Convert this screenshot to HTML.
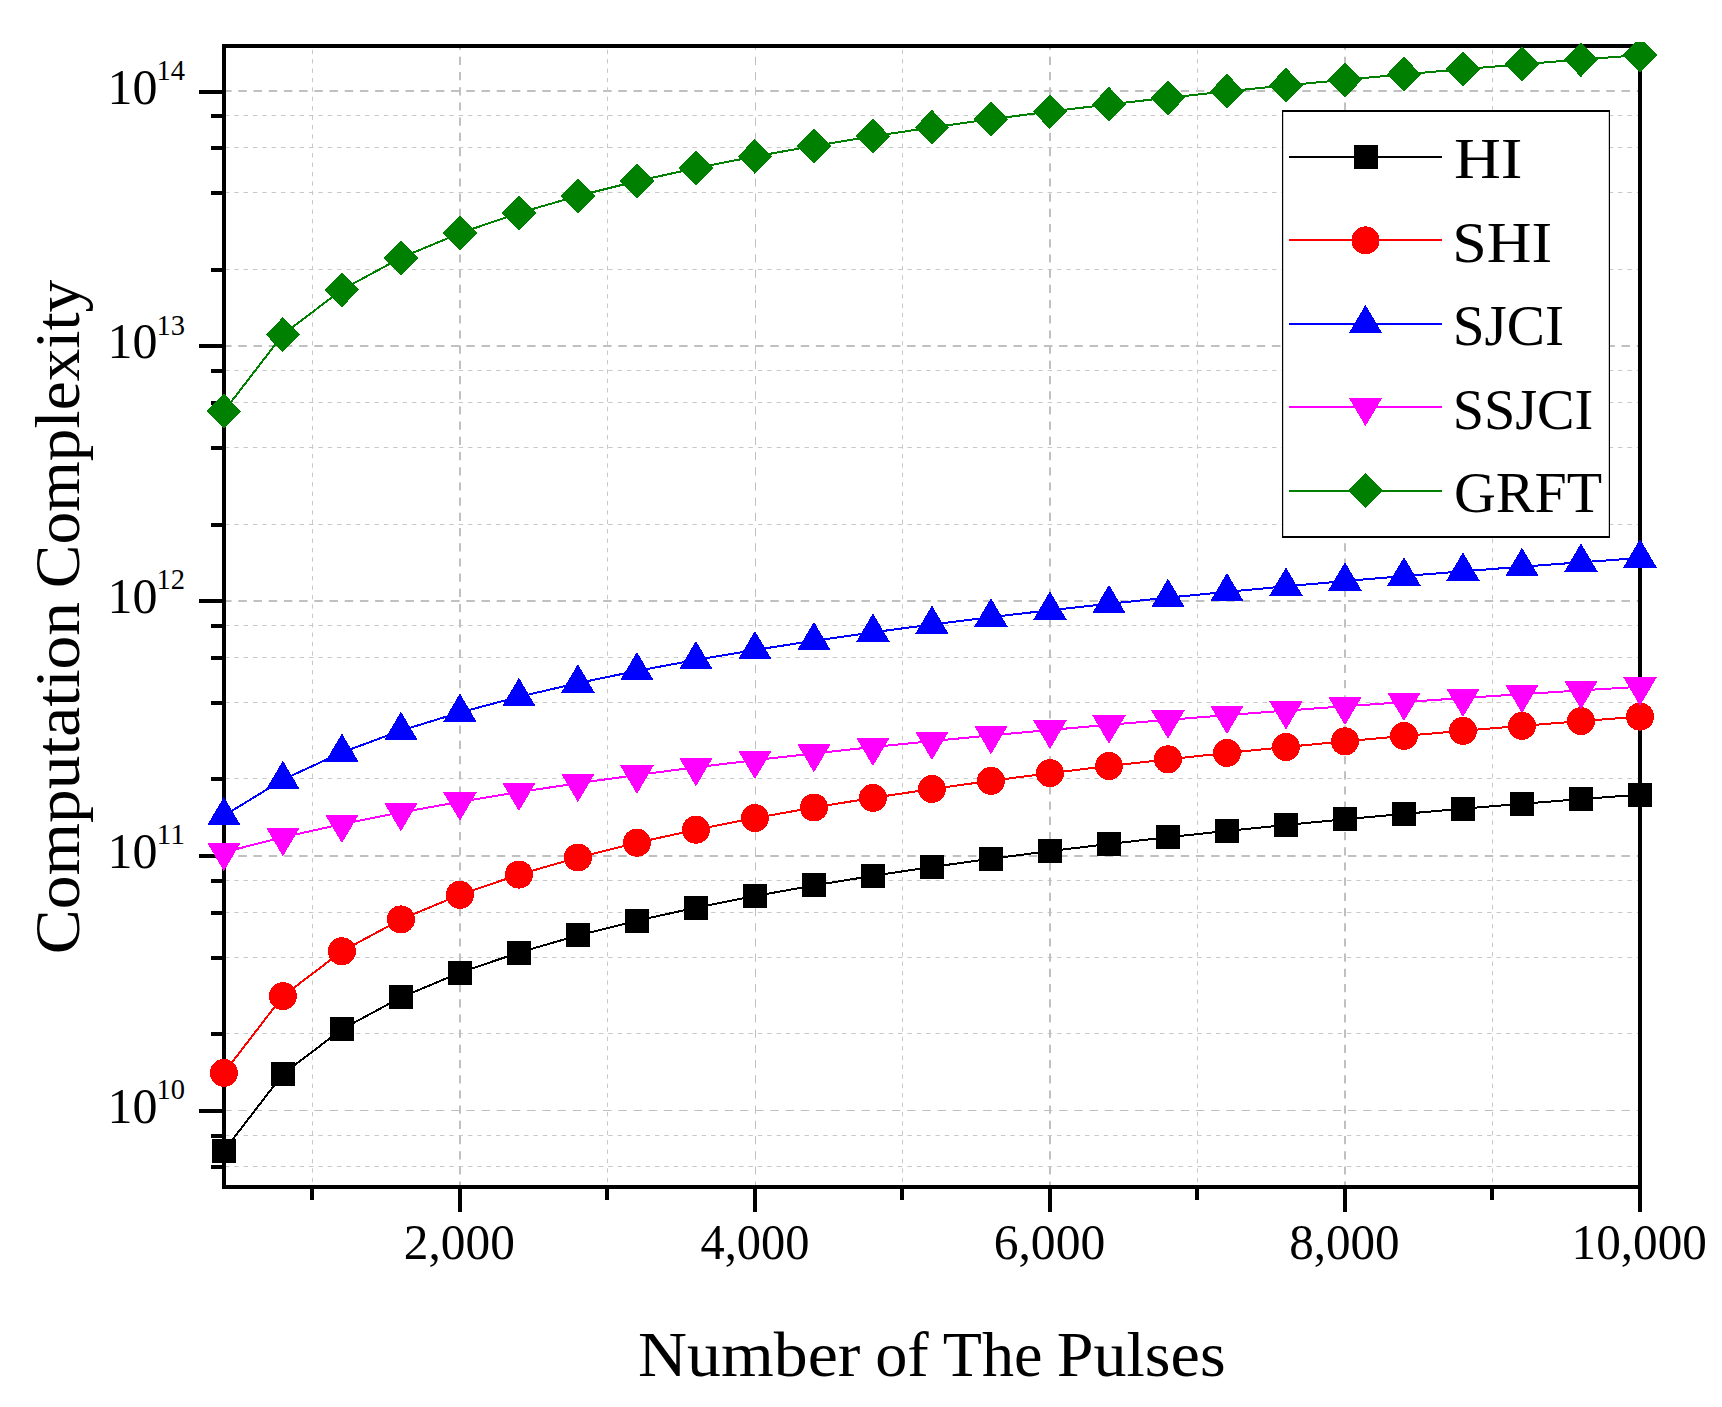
<!DOCTYPE html>
<html><head><meta charset="utf-8"><title>Computation Complexity</title>
<style>html,body{margin:0;padding:0;background:#fff;}body{width:1722px;height:1407px;overflow:hidden;}svg{display:block;}</style>
</head><body>
<svg width="1722" height="1407" viewBox="0 0 1722 1407">
<defs><clipPath id="c"><rect x="0" y="42" width="1722" height="1365"/></clipPath></defs>
<rect width="1722" height="1407" fill="#fff"/>
<line x1="226" y1="1166.50" x2="1638" y2="1166.50" stroke="#c8c8c8" stroke-width="1" stroke-dasharray="4.4 4.95" stroke-dashoffset="1.1"/>
<line x1="226" y1="1135.50" x2="1638" y2="1135.50" stroke="#c8c8c8" stroke-width="1" stroke-dasharray="4.4 4.95" stroke-dashoffset="1.1"/>
<line x1="226" y1="1110.5" x2="1638" y2="1110.5" stroke="#c0c0c0" stroke-width="1" stroke-dasharray="8.5 6.7" stroke-dashoffset="2.9"/>
<line x1="226" y1="1033.50" x2="1638" y2="1033.50" stroke="#c8c8c8" stroke-width="1" stroke-dasharray="4.4 4.95" stroke-dashoffset="1.1"/>
<line x1="226" y1="957.50" x2="1638" y2="957.50" stroke="#c8c8c8" stroke-width="1" stroke-dasharray="4.4 4.95" stroke-dashoffset="1.1"/>
<line x1="226" y1="912.50" x2="1638" y2="912.50" stroke="#c8c8c8" stroke-width="1" stroke-dasharray="4.4 4.95" stroke-dashoffset="1.1"/>
<line x1="226" y1="880.50" x2="1638" y2="880.50" stroke="#c8c8c8" stroke-width="1" stroke-dasharray="4.4 4.95" stroke-dashoffset="1.1"/>
<line x1="226" y1="856" x2="1638" y2="856" stroke="#c0c0c0" stroke-width="2" stroke-dasharray="8.5 6.7" stroke-dashoffset="2.9"/>
<line x1="226" y1="778.50" x2="1638" y2="778.50" stroke="#c8c8c8" stroke-width="1" stroke-dasharray="4.4 4.95" stroke-dashoffset="1.1"/>
<line x1="226" y1="702.50" x2="1638" y2="702.50" stroke="#c8c8c8" stroke-width="1" stroke-dasharray="4.4 4.95" stroke-dashoffset="1.1"/>
<line x1="226" y1="657.50" x2="1638" y2="657.50" stroke="#c8c8c8" stroke-width="1" stroke-dasharray="4.4 4.95" stroke-dashoffset="1.1"/>
<line x1="226" y1="625.50" x2="1638" y2="625.50" stroke="#c8c8c8" stroke-width="1" stroke-dasharray="4.4 4.95" stroke-dashoffset="1.1"/>
<line x1="226" y1="601" x2="1638" y2="601" stroke="#c0c0c0" stroke-width="2" stroke-dasharray="8.5 6.7" stroke-dashoffset="2.9"/>
<line x1="226" y1="524.50" x2="1638" y2="524.50" stroke="#c8c8c8" stroke-width="1" stroke-dasharray="4.4 4.95" stroke-dashoffset="1.1"/>
<line x1="226" y1="447.50" x2="1638" y2="447.50" stroke="#c8c8c8" stroke-width="1" stroke-dasharray="4.4 4.95" stroke-dashoffset="1.1"/>
<line x1="226" y1="402.50" x2="1638" y2="402.50" stroke="#c8c8c8" stroke-width="1" stroke-dasharray="4.4 4.95" stroke-dashoffset="1.1"/>
<line x1="226" y1="370.50" x2="1638" y2="370.50" stroke="#c8c8c8" stroke-width="1" stroke-dasharray="4.4 4.95" stroke-dashoffset="1.1"/>
<line x1="226" y1="346" x2="1638" y2="346" stroke="#c0c0c0" stroke-width="2" stroke-dasharray="8.5 6.7" stroke-dashoffset="2.9"/>
<line x1="226" y1="269.50" x2="1638" y2="269.50" stroke="#c8c8c8" stroke-width="1" stroke-dasharray="4.4 4.95" stroke-dashoffset="1.1"/>
<line x1="226" y1="192.50" x2="1638" y2="192.50" stroke="#c8c8c8" stroke-width="1" stroke-dasharray="4.4 4.95" stroke-dashoffset="1.1"/>
<line x1="226" y1="147.50" x2="1638" y2="147.50" stroke="#c8c8c8" stroke-width="1" stroke-dasharray="4.4 4.95" stroke-dashoffset="1.1"/>
<line x1="226" y1="115.50" x2="1638" y2="115.50" stroke="#c8c8c8" stroke-width="1" stroke-dasharray="4.4 4.95" stroke-dashoffset="1.1"/>
<line x1="226" y1="91" x2="1638" y2="91" stroke="#c0c0c0" stroke-width="2" stroke-dasharray="8.5 6.7" stroke-dashoffset="2.9"/>
<line x1="312.50" y1="48" x2="312.50" y2="1185" stroke="#c8c8c8" stroke-width="1" stroke-dasharray="4.4 5" stroke-dashoffset="7.7"/>
<line x1="460" y1="48" x2="460" y2="1185" stroke="#c0c0c0" stroke-width="2" stroke-dasharray="8.2 7" stroke-dashoffset="6.4"/>
<line x1="607.50" y1="48" x2="607.50" y2="1185" stroke="#c8c8c8" stroke-width="1" stroke-dasharray="4.4 5" stroke-dashoffset="7.7"/>
<line x1="755.5" y1="48" x2="755.5" y2="1185" stroke="#c0c0c0" stroke-width="1" stroke-dasharray="8.2 7" stroke-dashoffset="6.4"/>
<line x1="902.50" y1="48" x2="902.50" y2="1185" stroke="#c8c8c8" stroke-width="1" stroke-dasharray="4.4 5" stroke-dashoffset="7.7"/>
<line x1="1050" y1="48" x2="1050" y2="1185" stroke="#c0c0c0" stroke-width="2" stroke-dasharray="8.2 7" stroke-dashoffset="6.4"/>
<line x1="1197.50" y1="48" x2="1197.50" y2="1185" stroke="#c8c8c8" stroke-width="1" stroke-dasharray="4.4 5" stroke-dashoffset="7.7"/>
<line x1="1345" y1="48" x2="1345" y2="1185" stroke="#c0c0c0" stroke-width="2" stroke-dasharray="8.2 7" stroke-dashoffset="6.4"/>
<line x1="1492.50" y1="48" x2="1492.50" y2="1185" stroke="#c8c8c8" stroke-width="1" stroke-dasharray="4.4 5" stroke-dashoffset="7.7"/>
<rect x="224" y="46" width="1416" height="1141" fill="none" stroke="#000" stroke-width="4"/>
<g shape-rendering="crispEdges" stroke="#000" stroke-width="4">
<line x1="211" y1="1167" x2="224" y2="1167"/>
<line x1="211" y1="1136" x2="224" y2="1136"/>
<line x1="199" y1="1111" x2="224" y2="1111"/>
<line x1="211" y1="1034" x2="224" y2="1034"/>
<line x1="211" y1="958" x2="224" y2="958"/>
<line x1="211" y1="913" x2="224" y2="913"/>
<line x1="211" y1="881" x2="224" y2="881"/>
<line x1="199" y1="856" x2="224" y2="856"/>
<line x1="211" y1="779" x2="224" y2="779"/>
<line x1="211" y1="703" x2="224" y2="703"/>
<line x1="211" y1="658" x2="224" y2="658"/>
<line x1="211" y1="626" x2="224" y2="626"/>
<line x1="199" y1="601" x2="224" y2="601"/>
<line x1="211" y1="525" x2="224" y2="525"/>
<line x1="211" y1="448" x2="224" y2="448"/>
<line x1="211" y1="403" x2="224" y2="403"/>
<line x1="211" y1="371" x2="224" y2="371"/>
<line x1="199" y1="346" x2="224" y2="346"/>
<line x1="211" y1="270" x2="224" y2="270"/>
<line x1="211" y1="193" x2="224" y2="193"/>
<line x1="211" y1="148" x2="224" y2="148"/>
<line x1="211" y1="116" x2="224" y2="116"/>
<line x1="199" y1="92" x2="224" y2="92"/>
<line x1="312" y1="1187" x2="312" y2="1200"/>
<line x1="460" y1="1187" x2="460" y2="1212"/>
<line x1="607" y1="1187" x2="607" y2="1200"/>
<line x1="755" y1="1187" x2="755" y2="1212"/>
<line x1="902" y1="1187" x2="902" y2="1200"/>
<line x1="1050" y1="1187" x2="1050" y2="1212"/>
<line x1="1197" y1="1187" x2="1197" y2="1200"/>
<line x1="1345" y1="1187" x2="1345" y2="1212"/>
<line x1="1492" y1="1187" x2="1492" y2="1200"/>
<line x1="1640" y1="1187" x2="1640" y2="1212"/>
</g>
<text x="107.6" y="1122.90" font-size="50" font-family="Liberation Serif, Times New Roman, serif" fill="#000">10</text>
<text x="156.5" y="1099.10" font-size="30" font-family="Liberation Serif, Times New Roman, serif" textLength="28.5" lengthAdjust="spacingAndGlyphs" fill="#000">10</text>
<text x="107.6" y="868.05" font-size="50" font-family="Liberation Serif, Times New Roman, serif" fill="#000">10</text>
<text x="156.5" y="844.25" font-size="30" font-family="Liberation Serif, Times New Roman, serif" textLength="28.5" lengthAdjust="spacingAndGlyphs" fill="#000">11</text>
<text x="107.6" y="613.20" font-size="50" font-family="Liberation Serif, Times New Roman, serif" fill="#000">10</text>
<text x="156.5" y="589.40" font-size="30" font-family="Liberation Serif, Times New Roman, serif" textLength="28.5" lengthAdjust="spacingAndGlyphs" fill="#000">12</text>
<text x="107.6" y="358.35" font-size="50" font-family="Liberation Serif, Times New Roman, serif" fill="#000">10</text>
<text x="156.5" y="334.55" font-size="30" font-family="Liberation Serif, Times New Roman, serif" textLength="28.5" lengthAdjust="spacingAndGlyphs" fill="#000">13</text>
<text x="107.6" y="103.50" font-size="50" font-family="Liberation Serif, Times New Roman, serif" fill="#000">10</text>
<text x="156.5" y="79.70" font-size="30" font-family="Liberation Serif, Times New Roman, serif" textLength="28.5" lengthAdjust="spacingAndGlyphs" fill="#000">14</text>
<text x="403.78" y="1259" font-size="50" font-family="Liberation Serif, Times New Roman, serif" textLength="111.10" lengthAdjust="spacingAndGlyphs" fill="#000">2,000</text>
<text x="700.53" y="1259" font-size="50" font-family="Liberation Serif, Times New Roman, serif" textLength="109.01" lengthAdjust="spacingAndGlyphs" fill="#000">4,000</text>
<text x="993.67" y="1259" font-size="50" font-family="Liberation Serif, Times New Roman, serif" textLength="111.62" lengthAdjust="spacingAndGlyphs" fill="#000">6,000</text>
<text x="1289.14" y="1259" font-size="50" font-family="Liberation Serif, Times New Roman, serif" textLength="110.53" lengthAdjust="spacingAndGlyphs" fill="#000">8,000</text>
<text x="1571.57" y="1259" font-size="50" font-family="Liberation Serif, Times New Roman, serif" textLength="135.30" lengthAdjust="spacingAndGlyphs" fill="#000">10,000</text>
<text x="638.12" y="1376.3" font-size="63" font-family="Liberation Serif, Times New Roman, serif" textLength="222.36" lengthAdjust="spacingAndGlyphs" fill="#000">Number</text>
<text x="875.15" y="1376.3" font-size="63" font-family="Liberation Serif, Times New Roman, serif" textLength="53.53" lengthAdjust="spacingAndGlyphs" fill="#000">of</text>
<text x="942.73" y="1376.3" font-size="63" font-family="Liberation Serif, Times New Roman, serif" textLength="99.71" lengthAdjust="spacingAndGlyphs" fill="#000">The</text>
<text x="1056.77" y="1376.3" font-size="63" font-family="Liberation Serif, Times New Roman, serif" textLength="168.83" lengthAdjust="spacingAndGlyphs" fill="#000">Pulses</text>
<g transform="translate(78.8,0) rotate(-90)">
<text x="-954.18" y="0" font-size="63" font-family="Liberation Serif, Times New Roman, serif" textLength="352.24" lengthAdjust="spacingAndGlyphs" fill="#000">Computation</text>
<text x="-588.19" y="0" font-size="63" font-family="Liberation Serif, Times New Roman, serif" textLength="308.45" lengthAdjust="spacingAndGlyphs" fill="#000">Complexity</text>
</g>
<g clip-path="url(#c)" shape-rendering="crispEdges">
<polyline points="223.90,1150.84 282.90,1074.12 341.91,1029.24 400.91,997.40 459.92,972.71 518.92,952.53 577.92,935.47 636.93,920.69 695.93,907.65 754.94,895.99 813.94,885.44 872.94,875.81 931.95,866.95 990.95,858.75 1049.96,851.11 1108.96,843.97 1167.96,837.26 1226.97,830.93 1285.97,824.95 1344.98,819.27 1403.98,813.87 1462.98,808.72 1521.99,803.80 1580.99,799.09 1640.00,794.57" fill="none" stroke="#000000" stroke-width="2" stroke-linejoin="round"/>
<rect x="211.90" y="1138.84" width="24" height="24" fill="#000000"/>
<rect x="270.90" y="1062.12" width="24" height="24" fill="#000000"/>
<rect x="329.91" y="1017.24" width="24" height="24" fill="#000000"/>
<rect x="388.91" y="985.40" width="24" height="24" fill="#000000"/>
<rect x="447.92" y="960.71" width="24" height="24" fill="#000000"/>
<rect x="506.92" y="940.53" width="24" height="24" fill="#000000"/>
<rect x="565.92" y="923.47" width="24" height="24" fill="#000000"/>
<rect x="624.93" y="908.69" width="24" height="24" fill="#000000"/>
<rect x="683.93" y="895.65" width="24" height="24" fill="#000000"/>
<rect x="742.94" y="883.99" width="24" height="24" fill="#000000"/>
<rect x="801.94" y="873.44" width="24" height="24" fill="#000000"/>
<rect x="860.94" y="863.81" width="24" height="24" fill="#000000"/>
<rect x="919.95" y="854.95" width="24" height="24" fill="#000000"/>
<rect x="978.95" y="846.75" width="24" height="24" fill="#000000"/>
<rect x="1037.96" y="839.11" width="24" height="24" fill="#000000"/>
<rect x="1096.96" y="831.97" width="24" height="24" fill="#000000"/>
<rect x="1155.96" y="825.26" width="24" height="24" fill="#000000"/>
<rect x="1214.97" y="818.93" width="24" height="24" fill="#000000"/>
<rect x="1273.97" y="812.95" width="24" height="24" fill="#000000"/>
<rect x="1332.98" y="807.27" width="24" height="24" fill="#000000"/>
<rect x="1391.98" y="801.87" width="24" height="24" fill="#000000"/>
<rect x="1450.98" y="796.72" width="24" height="24" fill="#000000"/>
<rect x="1509.99" y="791.80" width="24" height="24" fill="#000000"/>
<rect x="1568.99" y="787.09" width="24" height="24" fill="#000000"/>
<rect x="1628.00" y="782.57" width="24" height="24" fill="#000000"/>
<polyline points="223.90,1072.89 282.90,996.17 341.91,951.29 400.91,919.45 459.92,894.75 518.92,874.57 577.92,857.51 636.93,842.73 695.93,829.70 754.94,818.04 813.94,807.49 872.94,797.86 931.95,789.00 990.95,780.80 1049.96,773.16 1108.96,766.02 1167.96,759.31 1226.97,752.98 1285.97,747.00 1344.98,741.32 1403.98,735.92 1462.98,730.77 1521.99,725.85 1580.99,721.14 1640.00,716.62" fill="none" stroke="#ff0000" stroke-width="2" stroke-linejoin="round"/>
<circle cx="223.90" cy="1072.89" r="14" fill="#ff0000"/>
<circle cx="282.90" cy="996.17" r="14" fill="#ff0000"/>
<circle cx="341.91" cy="951.29" r="14" fill="#ff0000"/>
<circle cx="400.91" cy="919.45" r="14" fill="#ff0000"/>
<circle cx="459.92" cy="894.75" r="14" fill="#ff0000"/>
<circle cx="518.92" cy="874.57" r="14" fill="#ff0000"/>
<circle cx="577.92" cy="857.51" r="14" fill="#ff0000"/>
<circle cx="636.93" cy="842.73" r="14" fill="#ff0000"/>
<circle cx="695.93" cy="829.70" r="14" fill="#ff0000"/>
<circle cx="754.94" cy="818.04" r="14" fill="#ff0000"/>
<circle cx="813.94" cy="807.49" r="14" fill="#ff0000"/>
<circle cx="872.94" cy="797.86" r="14" fill="#ff0000"/>
<circle cx="931.95" cy="789.00" r="14" fill="#ff0000"/>
<circle cx="990.95" cy="780.80" r="14" fill="#ff0000"/>
<circle cx="1049.96" cy="773.16" r="14" fill="#ff0000"/>
<circle cx="1108.96" cy="766.02" r="14" fill="#ff0000"/>
<circle cx="1167.96" cy="759.31" r="14" fill="#ff0000"/>
<circle cx="1226.97" cy="752.98" r="14" fill="#ff0000"/>
<circle cx="1285.97" cy="747.00" r="14" fill="#ff0000"/>
<circle cx="1344.98" cy="741.32" r="14" fill="#ff0000"/>
<circle cx="1403.98" cy="735.92" r="14" fill="#ff0000"/>
<circle cx="1462.98" cy="730.77" r="14" fill="#ff0000"/>
<circle cx="1521.99" cy="725.85" r="14" fill="#ff0000"/>
<circle cx="1580.99" cy="721.14" r="14" fill="#ff0000"/>
<circle cx="1640.00" cy="716.62" r="14" fill="#ff0000"/>
<polyline points="223.90,815.78 282.90,779.64 341.91,752.45 400.91,730.63 459.92,712.42 518.92,696.78 577.92,683.09 636.93,670.90 695.93,659.92 754.94,649.93 813.94,640.77 872.94,632.31 931.95,624.46 990.95,617.12 1049.96,610.24 1108.96,603.76 1167.96,597.64 1226.97,591.84 1285.97,586.33 1344.98,581.08 1403.98,576.07 1462.98,571.28 1521.99,566.68 1580.99,562.27 1640.00,558.03" fill="none" stroke="#0000ff" stroke-width="2" stroke-linejoin="round"/>
<polygon points="223.90,796.78 240.65,825.28 207.15,825.28" fill="#0000ff"/>
<polygon points="282.90,760.64 299.65,789.14 266.15,789.14" fill="#0000ff"/>
<polygon points="341.91,733.45 358.66,761.95 325.16,761.95" fill="#0000ff"/>
<polygon points="400.91,711.63 417.66,740.13 384.16,740.13" fill="#0000ff"/>
<polygon points="459.92,693.42 476.67,721.92 443.17,721.92" fill="#0000ff"/>
<polygon points="518.92,677.78 535.67,706.28 502.17,706.28" fill="#0000ff"/>
<polygon points="577.92,664.09 594.67,692.59 561.17,692.59" fill="#0000ff"/>
<polygon points="636.93,651.90 653.68,680.40 620.18,680.40" fill="#0000ff"/>
<polygon points="695.93,640.92 712.68,669.42 679.18,669.42" fill="#0000ff"/>
<polygon points="754.94,630.93 771.69,659.43 738.19,659.43" fill="#0000ff"/>
<polygon points="813.94,621.77 830.69,650.27 797.19,650.27" fill="#0000ff"/>
<polygon points="872.94,613.31 889.69,641.81 856.19,641.81" fill="#0000ff"/>
<polygon points="931.95,605.46 948.70,633.96 915.20,633.96" fill="#0000ff"/>
<polygon points="990.95,598.12 1007.70,626.62 974.20,626.62" fill="#0000ff"/>
<polygon points="1049.96,591.24 1066.71,619.74 1033.21,619.74" fill="#0000ff"/>
<polygon points="1108.96,584.76 1125.71,613.26 1092.21,613.26" fill="#0000ff"/>
<polygon points="1167.96,578.64 1184.71,607.14 1151.21,607.14" fill="#0000ff"/>
<polygon points="1226.97,572.84 1243.72,601.34 1210.22,601.34" fill="#0000ff"/>
<polygon points="1285.97,567.33 1302.72,595.83 1269.22,595.83" fill="#0000ff"/>
<polygon points="1344.98,562.08 1361.73,590.58 1328.23,590.58" fill="#0000ff"/>
<polygon points="1403.98,557.07 1420.73,585.57 1387.23,585.57" fill="#0000ff"/>
<polygon points="1462.98,552.28 1479.73,580.78 1446.23,580.78" fill="#0000ff"/>
<polygon points="1521.99,547.68 1538.74,576.18 1505.24,576.18" fill="#0000ff"/>
<polygon points="1580.99,543.27 1597.74,571.77 1564.24,571.77" fill="#0000ff"/>
<polygon points="1640.00,539.03 1656.75,567.53 1623.25,567.53" fill="#0000ff"/>
<polyline points="223.90,852.18 282.90,837.28 341.91,824.15 400.91,812.42 459.92,801.81 518.92,792.13 577.92,783.23 636.93,774.99 695.93,767.32 754.94,760.15 813.94,753.42 872.94,747.07 931.95,741.07 990.95,735.37 1049.96,729.96 1108.96,724.79 1167.96,719.86 1226.97,715.14 1285.97,710.61 1344.98,706.26 1403.98,702.07 1462.98,698.04 1521.99,694.15 1580.99,690.39 1640.00,686.75" fill="none" stroke="#ff00ff" stroke-width="2" stroke-linejoin="round"/>
<polygon points="223.90,871.18 240.65,842.68 207.15,842.68" fill="#ff00ff"/>
<polygon points="282.90,856.28 299.65,827.78 266.15,827.78" fill="#ff00ff"/>
<polygon points="341.91,843.15 358.66,814.65 325.16,814.65" fill="#ff00ff"/>
<polygon points="400.91,831.42 417.66,802.92 384.16,802.92" fill="#ff00ff"/>
<polygon points="459.92,820.81 476.67,792.31 443.17,792.31" fill="#ff00ff"/>
<polygon points="518.92,811.13 535.67,782.63 502.17,782.63" fill="#ff00ff"/>
<polygon points="577.92,802.23 594.67,773.73 561.17,773.73" fill="#ff00ff"/>
<polygon points="636.93,793.99 653.68,765.49 620.18,765.49" fill="#ff00ff"/>
<polygon points="695.93,786.32 712.68,757.82 679.18,757.82" fill="#ff00ff"/>
<polygon points="754.94,779.15 771.69,750.65 738.19,750.65" fill="#ff00ff"/>
<polygon points="813.94,772.42 830.69,743.92 797.19,743.92" fill="#ff00ff"/>
<polygon points="872.94,766.07 889.69,737.57 856.19,737.57" fill="#ff00ff"/>
<polygon points="931.95,760.07 948.70,731.57 915.20,731.57" fill="#ff00ff"/>
<polygon points="990.95,754.37 1007.70,725.87 974.20,725.87" fill="#ff00ff"/>
<polygon points="1049.96,748.96 1066.71,720.46 1033.21,720.46" fill="#ff00ff"/>
<polygon points="1108.96,743.79 1125.71,715.29 1092.21,715.29" fill="#ff00ff"/>
<polygon points="1167.96,738.86 1184.71,710.36 1151.21,710.36" fill="#ff00ff"/>
<polygon points="1226.97,734.14 1243.72,705.64 1210.22,705.64" fill="#ff00ff"/>
<polygon points="1285.97,729.61 1302.72,701.11 1269.22,701.11" fill="#ff00ff"/>
<polygon points="1344.98,725.26 1361.73,696.76 1328.23,696.76" fill="#ff00ff"/>
<polygon points="1403.98,721.07 1420.73,692.57 1387.23,692.57" fill="#ff00ff"/>
<polygon points="1462.98,717.04 1479.73,688.54 1446.23,688.54" fill="#ff00ff"/>
<polygon points="1521.99,713.15 1538.74,684.65 1505.24,684.65" fill="#ff00ff"/>
<polygon points="1580.99,709.39 1597.74,680.89 1564.24,680.89" fill="#ff00ff"/>
<polygon points="1640.00,705.75 1656.75,677.25 1623.25,677.25" fill="#ff00ff"/>
<polyline points="223.90,411.30 282.90,334.58 341.91,289.70 400.91,257.86 459.92,233.16 518.92,212.98 577.92,195.92 636.93,181.14 695.93,168.11 754.94,156.45 813.94,145.90 872.94,136.27 931.95,127.41 990.95,119.21 1049.96,111.57 1108.96,104.43 1167.96,97.72 1226.97,91.39 1285.97,85.41 1344.98,79.73 1403.98,74.33 1462.98,69.18 1521.99,64.26 1580.99,59.55 1640.00,55.03" fill="none" stroke="#008000" stroke-width="2" stroke-linejoin="round"/>
<polygon points="223.90,393.80 241.15,411.30 223.90,428.80 206.65,411.30" fill="#008000"/>
<polygon points="282.90,317.08 300.15,334.58 282.90,352.08 265.65,334.58" fill="#008000"/>
<polygon points="341.91,272.20 359.16,289.70 341.91,307.20 324.66,289.70" fill="#008000"/>
<polygon points="400.91,240.36 418.16,257.86 400.91,275.36 383.66,257.86" fill="#008000"/>
<polygon points="459.92,215.66 477.17,233.16 459.92,250.66 442.67,233.16" fill="#008000"/>
<polygon points="518.92,195.48 536.17,212.98 518.92,230.48 501.67,212.98" fill="#008000"/>
<polygon points="577.92,178.42 595.17,195.92 577.92,213.42 560.67,195.92" fill="#008000"/>
<polygon points="636.93,163.64 654.18,181.14 636.93,198.64 619.68,181.14" fill="#008000"/>
<polygon points="695.93,150.61 713.18,168.11 695.93,185.61 678.68,168.11" fill="#008000"/>
<polygon points="754.94,138.95 772.19,156.45 754.94,173.95 737.69,156.45" fill="#008000"/>
<polygon points="813.94,128.40 831.19,145.90 813.94,163.40 796.69,145.90" fill="#008000"/>
<polygon points="872.94,118.77 890.19,136.27 872.94,153.77 855.69,136.27" fill="#008000"/>
<polygon points="931.95,109.91 949.20,127.41 931.95,144.91 914.70,127.41" fill="#008000"/>
<polygon points="990.95,101.71 1008.20,119.21 990.95,136.71 973.70,119.21" fill="#008000"/>
<polygon points="1049.96,94.07 1067.21,111.57 1049.96,129.07 1032.71,111.57" fill="#008000"/>
<polygon points="1108.96,86.93 1126.21,104.43 1108.96,121.93 1091.71,104.43" fill="#008000"/>
<polygon points="1167.96,80.22 1185.21,97.72 1167.96,115.22 1150.71,97.72" fill="#008000"/>
<polygon points="1226.97,73.89 1244.22,91.39 1226.97,108.89 1209.72,91.39" fill="#008000"/>
<polygon points="1285.97,67.91 1303.22,85.41 1285.97,102.91 1268.72,85.41" fill="#008000"/>
<polygon points="1344.98,62.23 1362.23,79.73 1344.98,97.23 1327.73,79.73" fill="#008000"/>
<polygon points="1403.98,56.83 1421.23,74.33 1403.98,91.83 1386.73,74.33" fill="#008000"/>
<polygon points="1462.98,51.68 1480.23,69.18 1462.98,86.68 1445.73,69.18" fill="#008000"/>
<polygon points="1521.99,46.76 1539.24,64.26 1521.99,81.76 1504.74,64.26" fill="#008000"/>
<polygon points="1580.99,42.05 1598.24,59.55 1580.99,77.05 1563.74,59.55" fill="#008000"/>
<polygon points="1640.00,37.53 1657.25,55.03 1640.00,72.53 1622.75,55.03" fill="#008000"/>
</g>
<rect x="1282" y="110" width="328" height="428" fill="#fff"/>
<rect x="1282" y="110" width="328" height="2" fill="#000"/>
<rect x="1282" y="536" width="328" height="2" fill="#000"/>
<rect x="1282" y="110" width="1.2" height="428" fill="#000"/>
<rect x="1608.8" y="110" width="1.2" height="428" fill="#000"/>
<g shape-rendering="crispEdges"><line x1="1289" y1="157.0" x2="1442" y2="157.0" stroke="#000000" stroke-width="2"/>
<rect x="1353.50" y="145.00" width="24" height="24" fill="#000000"/></g>
<text x="1453.94" y="177.8" font-size="58" font-family="Liberation Serif, Times New Roman, serif" textLength="68.55" lengthAdjust="spacingAndGlyphs" fill="#000">HI</text>
<g shape-rendering="crispEdges"><line x1="1289" y1="240.4" x2="1442" y2="240.4" stroke="#ff0000" stroke-width="2"/>
<circle cx="1365.50" cy="240.40" r="14" fill="#ff0000"/></g>
<text x="1452.23" y="262.0" font-size="58" font-family="Liberation Serif, Times New Roman, serif" textLength="99.87" lengthAdjust="spacingAndGlyphs" fill="#000">SHI</text>
<g shape-rendering="crispEdges"><line x1="1289" y1="323.8" x2="1442" y2="323.8" stroke="#0000ff" stroke-width="2"/>
<polygon points="1365.50,304.80 1382.25,333.30 1348.75,333.30" fill="#0000ff"/></g>
<text x="1452.65" y="345.4" font-size="58" font-family="Liberation Serif, Times New Roman, serif" textLength="111.30" lengthAdjust="spacingAndGlyphs" fill="#000">SJCI</text>
<g shape-rendering="crispEdges"><line x1="1289" y1="407.2" x2="1442" y2="407.2" stroke="#ff00ff" stroke-width="2"/>
<polygon points="1365.50,426.20 1382.25,397.70 1348.75,397.70" fill="#ff00ff"/></g>
<text x="1452.72" y="428.8" font-size="58" font-family="Liberation Serif, Times New Roman, serif" textLength="140.60" lengthAdjust="spacingAndGlyphs" fill="#000">SSJCI</text>
<g shape-rendering="crispEdges"><line x1="1289" y1="490.6" x2="1442" y2="490.6" stroke="#008000" stroke-width="2"/>
<polygon points="1365.50,473.10 1382.75,490.60 1365.50,508.10 1348.25,490.60" fill="#008000"/></g>
<text x="1454.00" y="512.2" font-size="58" font-family="Liberation Serif, Times New Roman, serif" textLength="148.01" lengthAdjust="spacingAndGlyphs" fill="#000">GRFT</text>
</svg>
</body></html>
